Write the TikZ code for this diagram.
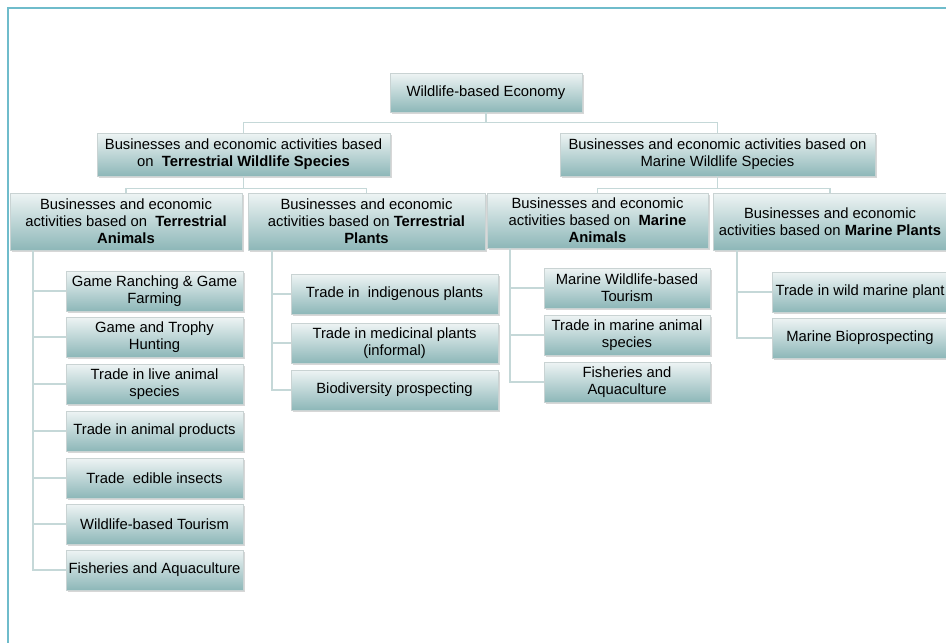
\documentclass[tikz,border=0pt]{standalone}
\usepackage{fontspec}
\setmainfont{Liberation Sans}
\usetikzlibrary{shadows,calc}
\definecolor{boxtop}{HTML}{EEF4F4}
\definecolor{boxbot}{HTML}{8DB7B8}
\definecolor{boxline}{HTML}{C9D3D3}
\definecolor{conn}{HTML}{C5D8D8}
\definecolor{frame}{HTML}{6FBCCB}
\tikzset{
  box/.style={draw=boxline, line width=0.6pt, top color=boxtop, bottom color=boxbot,
    align=center, inner sep=1pt, font=\fontsize{14.8}{17}\selectfont,
    drop shadow={shadow xshift=1.5pt, shadow yshift=-1.5pt, fill=gray!45, opacity=0.7}},
  conn/.style={draw=conn, line width=1.6pt},
}
\begin{document}
\begin{tikzpicture}[x=1pt,y=-1pt]
\useasboundingbox (0,0) rectangle (946,643);
\clip (0,0) rectangle (946,643);
\draw[frame, line width=1.2pt] (8,643) -- (8,8) -- (946,8);

% root and level 1
\node[box, minimum width=192pt, minimum height=39pt] (root) at (486,92.5) {Wildlife-based Economy};
\node[box, minimum width=293pt, minimum height=43pt] (t1) at (243.5,154.5)
  {Businesses and economic activities based\\on \ \textbf{Terrestrial Wildlife Species}};
\node[box, minimum width=315pt, minimum height=43pt] (m1) at (717.5,154.5)
  {Businesses and economic activities based on\\Marine Wildlife Species};

% level 2
\node[box, minimum width=232pt, minimum height=57pt] (ta) at (126,221.5)
  {Businesses and economic\\activities based on \ \textbf{Terrestrial}\\\textbf{Animals}};
\node[box, minimum width=237pt, minimum height=57pt] (tp) at (366.5,221.5)
  {Businesses and economic\\activities based on \textbf{Terrestrial}\\\textbf{Plants}};
\node[box, minimum width=221pt, minimum height=55pt] (ma) at (597.5,220.5)
  {Businesses and economic\\activities based on \ \textbf{Marine}\\\textbf{Animals}};
\node[box, minimum width=234pt, minimum height=57pt] (mp) at (830,221.5)
  {Businesses and economic\\activities based on \textbf{Marine Plants}};

% terrestrial animal leaves
\begin{scope}[every node/.style={box, minimum width=177pt, minimum height=40pt}]
\node (a1) at (154.5,291) {Game Ranching \& Game\\Farming};
\node (a2) at (154.5,337) {Game and Trophy\\Hunting};
\node (a3) at (154.5,384) {Trade in live animal\\species};
\node (a4) at (154.5,431) {Trade in animal products};
\node (a5) at (154.5,478) {Trade \ edible insects};
\node (a6) at (154.5,524) {Wildlife-based Tourism};
\node (a7) at (154.5,570) {Fisheries and Aquaculture};
\end{scope}

% terrestrial plant leaves
\begin{scope}[every node/.style={box, minimum width=207pt, minimum height=40pt}]
\node (p1) at (394.5,294) {Trade in \ indigenous plants};
\node (p2) at (394.5,343) {Trade in medicinal plants\\(informal)};
\node (p3) at (394.5,390) {Biodiversity prospecting};
\end{scope}

% marine animal leaves
\begin{scope}[every node/.style={box, minimum width=166pt, minimum height=40pt}]
\node (b1) at (627,288) {Marine Wildlife-based\\Tourism};
\node (b2) at (627,335) {Trade in marine animal\\species};
\node (b3) at (627,382) {Fisheries and\\Aquaculture};
\end{scope}

% marine plant leaves
\begin{scope}[every node/.style={box, minimum width=176pt, minimum height=40pt}]
\node (c1) at (860,292) {Trade in wild marine plant};
\node (c2) at (860,338) {Marine Bioprospecting};
\end{scope}

% connectors
\coordinate (j0) at ($(root.south)+(0,10)$);
\draw[conn] (root.south) -- (j0);
\draw[conn] (j0) -| (t1.north);
\draw[conn] (j0) -| (m1.north);

\coordinate (j1) at ($(t1.south)+(0,12)$);
\draw[conn] (t1.south) -- (j1);
\draw[conn] (j1) -| (ta.north);
\draw[conn] (j1) -| (tp.north);

\coordinate (j2) at ($(m1.south)+(0,12)$);
\draw[conn] (m1.south) -- (j2);
\draw[conn] (j2) -| (ma.north);
\draw[conn] (j2) -| (mp.north);

\coordinate (ta0) at ($(ta.south west)+(23,0)$);
\foreach \n in {a1,a2,a3,a4,a5,a6,a7} \draw[conn] (ta0) |- (\n.west);
\coordinate (tp0) at ($(tp.south west)+(24,0)$);
\foreach \n in {p1,p2,p3} \draw[conn] (tp0) |- (\n.west);
\coordinate (ma0) at ($(ma.south west)+(23,0)$);
\foreach \n in {b1,b2,b3} \draw[conn] (ma0) |- (\n.west);
\coordinate (mp0) at ($(mp.south west)+(24,0)$);
\foreach \n in {c1,c2} \draw[conn] (mp0) |- (\n.west);
\end{tikzpicture}
\end{document}
